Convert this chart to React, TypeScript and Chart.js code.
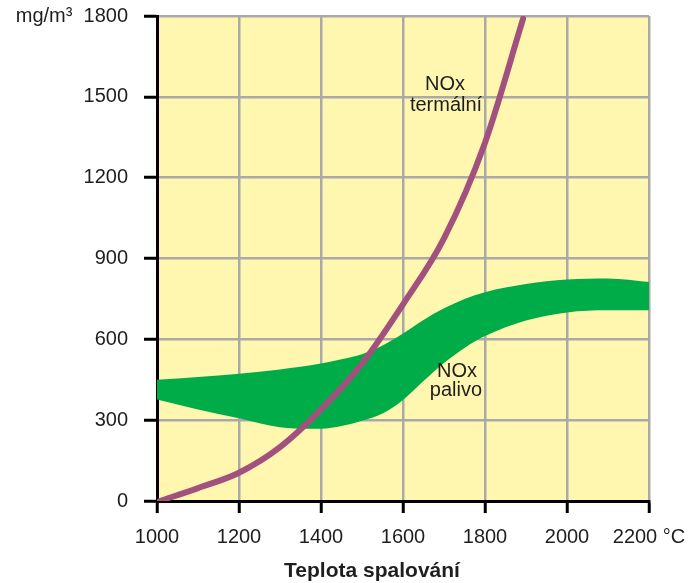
import React, { useEffect, useRef } from "react";
import { Chart, registerables } from "chart.js";

Chart.register(...registerables);

// Thermal NOx curve (°C, mg/m³)
const thermalTemps = [1007, 1100, 1200, 1300, 1400, 1500, 1600, 1700, 1800, 1893];
const thermalValues = [0, 48, 105, 200, 340, 510, 730, 975, 1330, 1790];

// Fuel NOx band
const bandTemps = [1000, 1100, 1200, 1300, 1400, 1450, 1500, 1550, 1600, 1650, 1700, 1750, 1800, 1900, 2000, 2100, 2200];
const bandLower = [377, 340, 307, 274, 268, 278, 298, 325, 375, 445, 512, 568, 612, 670, 700, 708, 708];
const bandUpper = [450, 460, 472, 488, 510, 526, 545, 577, 622, 672, 715, 750, 775, 805, 822, 826, 813];

const xTicks = [1000, 1200, 1400, 1600, 1800, 2000, 2200];
const yTicks = [0, 300, 600, 900, 1200, 1500, 1800];
const xUnit = "°C";
const yUnit = "mg/m³";
const xTitle = "Teplota spalování";
const thermalLabel = ["NOx", "termální"];
const fuelLabel = ["NOx", "palivo"];

const FONT = "'Liberation Sans', Arial, sans-serif";
const TEXT = "#1e1e1e";

export default function App() {
  const ref = useRef<HTMLCanvasElement | null>(null);

  useEffect(() => {
    const canvas = ref.current;
    if (!canvas) return;

    const bgPlugin = {
      id: "plotBg",
      beforeDraw(chart: any) {
        const { ctx, chartArea } = chart;
        ctx.save();
        ctx.fillStyle = "#FFF6B0";
        ctx.fillRect(chartArea.left, chartArea.top, chartArea.right - chartArea.left, chartArea.bottom - chartArea.top);
        ctx.restore();
      },
    };

    const textPlugin = {
      id: "texts",
      afterDraw(chart: any) {
        const { ctx } = chart;
        ctx.save();
        ctx.fillStyle = TEXT;
        ctx.textAlign = "center";
        ctx.textBaseline = "alphabetic";
        ctx.font = `20px ${FONT}`;
        ctx.fillText(thermalLabel[0], 445, 90);
        ctx.fillText(thermalLabel[1], 446, 111);
        ctx.fillText(fuelLabel[0], 457, 377);
        ctx.fillText(fuelLabel[1], 456, 396);
        ctx.font = `bold 21px ${FONT}`;
        ctx.textBaseline = "middle";
        ctx.fillText(xTitle, 372, 571);
        ctx.restore();
      },
    };

    const chart = new Chart(canvas, {
      type: "line",
      data: {
        datasets: [
          {
            label: "NOx termální",
            data: thermalTemps.map((t, i) => ({ x: t, y: thermalValues[i] })),
            borderColor: "#A2517F",
            borderWidth: 6,
            borderCapStyle: "round",
            pointRadius: 0,
            cubicInterpolationMode: "monotone",
            fill: false,
          },
          {
            label: "lower",
            data: bandTemps.map((t, i) => ({ x: t, y: bandLower[i] })),
            borderWidth: 0,
            borderColor: "rgba(0,0,0,0)",
            pointRadius: 0,
            cubicInterpolationMode: "monotone",
            fill: false,
          },
          {
            label: "upper",
            data: bandTemps.map((t, i) => ({ x: t, y: bandUpper[i] })),
            borderWidth: 0,
            borderColor: "rgba(0,0,0,0)",
            backgroundColor: "#00AC48",
            pointRadius: 0,
            cubicInterpolationMode: "monotone",
            fill: "-1",
          },
        ],
      },
      options: {
        responsive: false,
        animation: false,
        events: [],
        layout: { padding: { top: 16, right: 44, left: 0, bottom: 0 } },
        plugins: { legend: { display: false }, tooltip: { enabled: false } },
        scales: {
          x: {
            type: "linear",
            min: 1000,
            max: 2200,
            afterBuildTicks: (s: any) => {
              s.ticks = xTicks.map((v) => ({ value: v }));
            },
            afterFit: (s: any) => {
              s.height = 82;
              s.paddingLeft = 0;
              s.paddingRight = 0;
            },
            ticks: {
              color: TEXT,
              font: { family: FONT, size: 20 },
              padding: 12,
              maxRotation: 0,
              autoSkip: false,
              callback: (v: any) => (v === 2200 ? `${v} ${xUnit}` : `${v}`),
            },
            grid: {
              color: "#A9A9A9",
              lineWidth: 2.5,
              tickColor: "#000",
              tickWidth: 3,
              tickLength: 12,
            },
            border: { color: "#000", width: 3 },
          },
          y: {
            type: "linear",
            min: 0,
            max: 1800,
            afterBuildTicks: (s: any) => {
              s.ticks = yTicks.map((v) => ({ value: v }));
            },
            afterFit: (s: any) => {
              s.width = 157;
              s.paddingTop = 0;
              s.paddingBottom = 0;
            },
            ticks: {
              color: TEXT,
              font: { family: FONT, size: 20 },
              padding: 16,
              autoSkip: false,
              callback: (v: any) => (v === 1800 ? `${yUnit}  ${v}` : `${v}`),
            },
            grid: {
              color: "#A9A9A9",
              lineWidth: 2.5,
              tickColor: "#000",
              tickWidth: 3,
              tickLength: 13,
            },
            border: { color: "#000", width: 3 },
          },
        },
      },
      plugins: [bgPlugin, textPlugin],
    } as any);

    return () => chart.destroy();
  }, []);

  return (
    <div style={{ position: "absolute", left: 0, top: 0, width: 693, height: 583, background: "#fff" }}>
      <canvas ref={ref} width={693} height={583} style={{ display: "block", width: 693, height: 583 }} />
    </div>
  );
}
